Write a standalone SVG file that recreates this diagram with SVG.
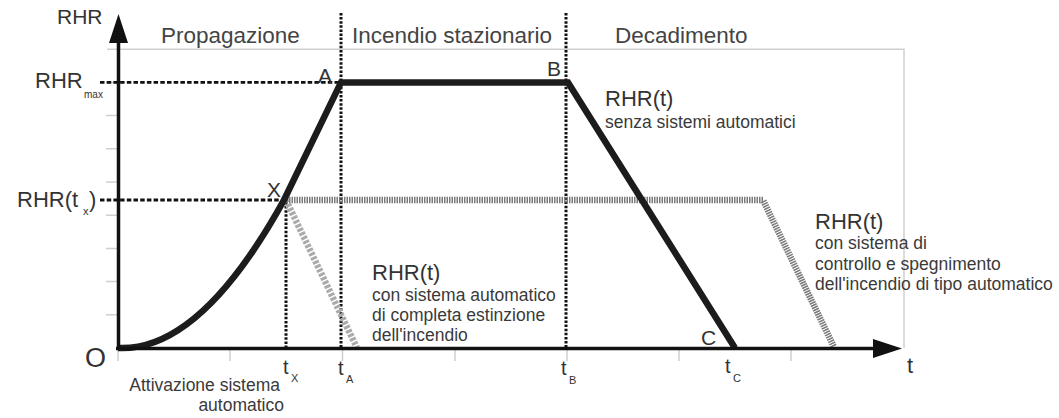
<svg xmlns="http://www.w3.org/2000/svg" width="1059" height="418" viewBox="0 0 1059 418">
<style>
text{font-family:"Liberation Sans",Arial,sans-serif;fill:#333}
.hdr{font-size:22.5px;fill:#444}
.lbl{font-size:22px}
.sm{font-size:17.5px;fill:#3a3a3a}
.sub{font-size:11px}
.pt{font-size:21px;fill:#333}
.grid{stroke:#cfcfcf;stroke-width:1.5;fill:none}
.dot{stroke:#111;stroke-width:3;stroke-dasharray:2.5 1.6;fill:none}
.dash{stroke:#111;stroke-width:2.8;stroke-dasharray:4.5 2.2;fill:none}
</style>
<rect width="1059" height="418" fill="#fff"/>
<g id="grid">
<path class="grid" d="M107 49.2H904V348"/>
<path class="grid" d="M106 82.4H118M106 115.6H118M106 148.8H118M106 182H118M106 215.2H118M106 248.4H118M106 281.6H118M106 314.8H118"/>
<path class="grid" d="M118 348V361M230 348V361M342.5 348V361M455 348V361M567 348V361M679 348V361M791 348V361"/>
</g>
<g id="guides">
<path class="dash" d="M100 82.4H341"/>
<path class="dash" d="M100 200H284"/>
<path class="dot" d="M341 13V348"/>
<path class="dot" d="M566 13V348"/>
<path class="dot" d="M286 202V348"/>
</g>
<g id="connectors">
<path d="M286 200L357 348" fill="none" stroke="#aaa" stroke-width="6.5" stroke-dasharray="3 1.5"/>
<path d="M284 200H763L834 347" fill="none" stroke="#7a7a7a" stroke-width="6.5" stroke-dasharray="1.5 1"/>
<path d="M118 348Q200 352 284 200L341 82.4H568L735 348" fill="none" stroke="#1c1c1c" stroke-width="6.5" stroke-linejoin="miter"/>
</g>
<g id="axes">
<path d="M118.5 350V40" stroke="#111" stroke-width="3.5" fill="none"/>
<path d="M109 43L118.5 14L128 43Z" fill="#111"/>
<path d="M116 348.5H876" stroke="#111" stroke-width="3.5" fill="none"/>
<path d="M873 339L902 348.5L873 358Z" fill="#111"/>
</g>
<g id="phases">
<text class="hdr" x="161" y="43">Propagazione</text>
<text class="hdr" x="352" y="43">Incendio stazionario</text>
<text class="hdr" x="615" y="43">Decadimento</text>
</g>
<g id="axis-labels">
<text class="lbl" x="57" y="24" style="font-size:21px">RHR</text>
<text class="lbl" x="35" y="88">RHR</text>
<text class="sub" x="84" y="98" style="font-size:10px">max</text>
<text class="lbl" x="17" y="207">RHR(t</text>
<text class="sub" x="83" y="215">x</text>
<text class="lbl" x="89" y="207">)</text>
<text x="85" y="367" style="font-size:27px">O</text>
<text class="lbl" x="907" y="373">t</text>
<text class="lbl" x="283" y="374" style="font-size:20px">t</text>
<text class="sub" x="291" y="382">X</text>
<text class="lbl" x="338" y="375" style="font-size:20px">t</text>
<text class="sub" x="346" y="383">A</text>
<text class="lbl" x="561" y="375" style="font-size:20px">t</text>
<text class="sub" x="569" y="384">B</text>
<text class="lbl" x="725" y="373" style="font-size:20px">t</text>
<text class="sub" x="733" y="382">C</text>
</g>
<g id="points">
<text class="pt" x="318" y="83">A</text>
<text class="pt" x="547" y="76">B</text>
<text class="pt" x="267" y="197">X</text>
<text class="pt" x="701" y="345">C</text>
</g>
<g id="label-noauto">
<text class="lbl" x="605" y="106">RHR(t)</text>
<text class="sm" x="605" y="128">senza sistemi automatici</text>
</g>
<g id="label-estinzione">
<text class="lbl" x="372" y="280">RHR(t)</text>
<text class="sm" x="372" y="301">con sistema automatico</text>
<text class="sm" x="372" y="321">di completa estinzione</text>
<text class="sm" x="372" y="341">dell'incendio</text>
</g>
<g id="label-controllo">
<text class="lbl" x="815" y="229">RHR(t)</text>
<text class="sm" x="815" y="249">con sistema di</text>
<text class="sm" x="815" y="270">controllo e spegnimento</text>
<text class="sm" x="815" y="290">dell'incendio di tipo automatico</text>
</g>
<g id="activation">
<text class="sm" x="280" y="391" text-anchor="end">Attivazione sistema</text>
<text class="sm" x="284" y="411" text-anchor="end">automatico</text>
</g>
</svg>
